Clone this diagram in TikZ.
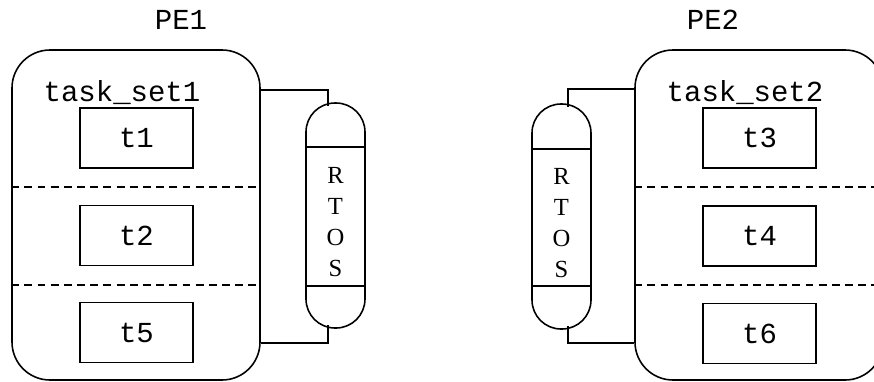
\documentclass[tikz,border=0pt]{standalone}
\usepackage{fontspec}
\setmainfont{Liberation Serif}
\setmonofont{Liberation Mono}
\usetikzlibrary{calc}

\begin{document}
\begin{tikzpicture}[x=0.2cm,y=0.2cm,line width=0.9pt]
      \tikzstyle{every node}+=[inner sep=0pt]
      \tikzstyle{pebox}=[draw, rounded corners=0.76cm, minimum width=4.96cm, minimum height=6.6cm]
      \tikzstyle{taskbox}=[draw, minimum width=2.26cm, minimum height=1.2cm, font=\ttfamily\fontsize{16.5}{18}\selectfont]
      \tikzstyle{rtosbox}=[draw, rounded corners=0.58cm, minimum width=1.18cm, minimum height=4.5cm]
      \tikzstyle{monolbl}=[font=\ttfamily\fontsize{16.5}{18}\selectfont]
      \tikzstyle{rtoslbl}=[align=center, font=\fontsize{14}{17.5}\selectfont]
      \tikzstyle{sep}=[dash pattern=on 4.5pt off 3pt]
      \useasboundingbox (0,0) rectangle (87.4,-38.1);
      % processing elements
      \node [pebox] (pe1) at (13.6,-21.5) {};
      \node [pebox] (pe2) at (75.9,-21.5) {};
      \node [monolbl] (pe1lbl) at (18.1,-2.0) {PE1};
      \node [monolbl] (pe2lbl) at (71.3,-2.0) {PE2};
      \node [monolbl] (set1) at (12.2,-9.3) {task\_set1};
      \node [monolbl] (set2) at (74.5,-9.3) {task\_set2};
      % tasks
      \node [taskbox] (t1) at (13.65,-13.8) {t1};
      \node [taskbox] (t2) at (13.65,-23.55) {t2};
      \node [taskbox] (t5) at (13.65,-33.25) {t5};
      \node [taskbox] (t3) at (75.95,-13.8) {t3};
      \node [taskbox] (t4) at (75.95,-23.6) {t4};
      \node [taskbox] (t6) at (75.95,-33.35) {t6};
      \draw [sep] (pe1.west |- 0,-18.7) -- (pe1.east |- 0,-18.7);
      \draw [sep] (pe1.west |- 0,-28.5) -- (pe1.east |- 0,-28.5);
      \draw [sep] (pe2.west |- 0,-18.7) -- (pe2.east |- 0,-18.7);
      \draw [sep] (pe2.west |- 0,-28.5) -- (pe2.east |- 0,-28.5);
      % RTOS capsules
      \node [rtosbox] (rtosA) at (33.55,-21.55) {};
      \node [rtosbox] (rtosB) at (56.15,-21.65) {};
      \node [rtoslbl, yshift=-0.13cm] (rtosAlbl) at (rtosA.center) {R\\T\\O\\S};
      \node [rtoslbl, yshift=-0.13cm] (rtosBlbl) at (rtosB.center) {R\\T\\O\\S};
      \draw ($(rtosA.north west)+(0,-4.5)$) -- ($(rtosA.north east)+(0,-4.5)$);
      \draw ($(rtosA.south west)+(0,4.3)$) -- ($(rtosA.south east)+(0,4.3)$);
      \draw ($(rtosB.north west)+(0,-4.6)$) -- ($(rtosB.north east)+(0,-4.6)$);
      \draw ($(rtosB.south west)+(0,4.4)$) -- ($(rtosB.south east)+(0,4.4)$);
      % links to the kernels
      \draw (pe1.east |- 0,-9.0) -| ($(rtosA.north)+(-0.75,-0.4)$);
      \draw (pe1.east |- 0,-34.3) -| ($(rtosA.south)+(-0.75,0.4)$);
      \draw (pe2.west |- 0,-8.9) -| ($(rtosB.north)+(0.65,-0.4)$);
      \draw (pe2.west |- 0,-34.3) -| ($(rtosB.south)+(0.65,0.4)$);
\end{tikzpicture}
\end{document}
